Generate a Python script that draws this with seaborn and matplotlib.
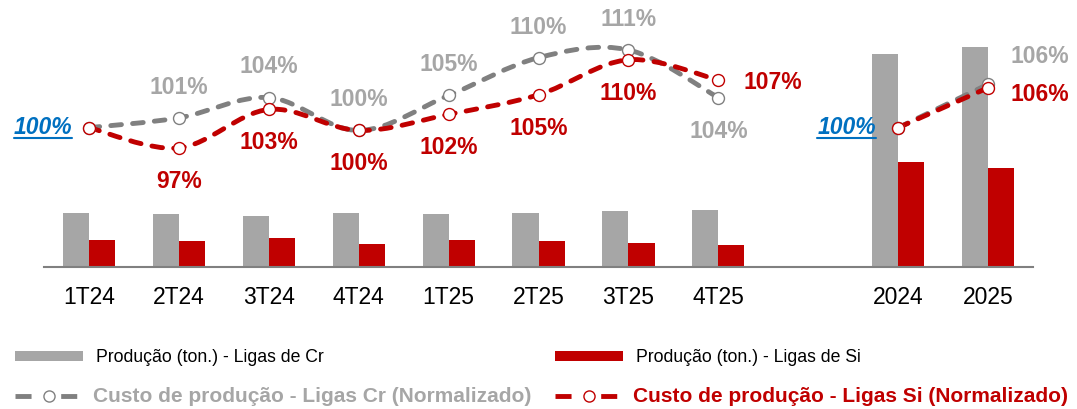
import numpy as np
import pandas as pd
import seaborn as sns
import matplotlib.pyplot as plt
from matplotlib.path import Path
from matplotlib.patches import PathPatch, Patch
from matplotlib.lines import Line2D

# dados
periodos = ["1T24", "2T24", "3T24", "4T24", "1T25", "2T25", "3T25", "4T25", " ", "2024", "2025"]
trimestres = ["1T24", "2T24", "3T24", "4T24", "1T25", "2T25", "3T25", "4T25"]
anos = ["2024", "2025"]

prod_cr = [54, 53, 51, 54, 53, 54, 56, 57, 213, 220]
prod_si = [27, 26, 29, 23, 27, 26, 24, 22, 105, 99]
barras_cat = trimestres + anos

custo_cr_tri = [100, 101.4, 104.3, 99.6, 104.6, 110.0, 111.1, 104.3]
custo_si_tri = [100, 97.1, 102.6, 99.6, 101.9, 104.7, 109.7, 106.8]
custo_cr_ano = [100, 106.2]
custo_si_ano = [100, 105.7]

nome_cr = "Produção (ton.) - Ligas de Cr"
nome_si = "Produção (ton.) - Ligas de Si"
nome_custo_cr = "Custo de produção - Ligas Cr (Normalizado)"
nome_custo_si = "Custo de produção - Ligas Si (Normalizado)"

CINZA_BAR = "#A6A6A6"
CINZA_LIN = "#808080"
VERMELHO = "#C00000"
AZUL = "#0070C0"

sns.set_theme(style="white")
plt.rcParams["font.family"] = ["Liberation Sans", "DejaVu Sans"]

fig = plt.figure(figsize=(10.77, 4.09), dpi=100)
ax = fig.add_axes([0.0409, 0.348, 0.9183, 0.6276])

df = pd.DataFrame({
    "periodo": barras_cat * 2,
    "serie": [nome_cr] * len(barras_cat) + [nome_si] * len(barras_cat),
    "valor": prod_cr + prod_si,
})
sns.barplot(data=df, x="periodo", y="valor", hue="serie", order=periodos,
            palette={nome_cr: CINZA_BAR, nome_si: VERMELHO}, saturation=1,
            width=0.58, gap=0, errorbar=None, linewidth=0, legend=False, ax=ax)

ax.set_xlim(-0.5, 10.5)
ax.set_ylim(0, 256.7)
ax.set_xlabel("")
ax.set_ylabel("")
ax.set_yticks([])
for s in ["top", "left", "right"]:
    ax.spines[s].set_visible(False)
ax.spines["bottom"].set_color(CINZA_LIN)
ax.spines["bottom"].set_linewidth(1.5)
ax.tick_params(axis="x", length=0, pad=14, labelsize=16.5, labelcolor="black")

ax2 = ax.twinx()
ax2.set_ylim(80.14, 116.81)
ax2.set_yticks([])
for s in ax2.spines.values():
    s.set_visible(False)


def curva_suave(xs, ys):
    # curva suavizada tipo Excel (Catmull-Rom em Bezier)
    pts = np.column_stack([xs, ys]).astype(float)
    verts = [pts[0]]
    codes = [Path.MOVETO]
    n = len(pts)
    for i in range(n - 1):
        p0 = pts[i - 1] if i > 0 else pts[i]
        p1 = pts[i]
        p2 = pts[i + 1]
        p3 = pts[i + 2] if i + 2 < n else pts[i + 1]
        c1 = p1 + (p2 - p0) / 6
        c2 = p2 - (p3 - p1) / 6
        verts += [c1, c2, p2]
        codes += [Path.CURVE4] * 3
    return Path(verts, codes)


pos_tri = [periodos.index(p) for p in trimestres]
pos_ano = [periodos.index(p) for p in anos]
traco = (0, (2.2, 2.3))

for xs, ys_cr, ys_si in [(pos_tri, custo_cr_tri, custo_si_tri), (pos_ano, custo_cr_ano, custo_si_ano)]:
    for ys, cor in [(ys_cr, CINZA_LIN), (ys_si, VERMELHO)]:
        patch = PathPatch(curva_suave(xs, ys), facecolor="none", edgecolor=cor, lw=3.5,
                          linestyle=traco, capstyle="round", zorder=3)
        ax2.add_patch(patch)
        ax2.plot(xs, ys, linestyle="none", marker="o", ms=8.6, mfc="white",
                 mec=cor, mew=1.0, zorder=4)

fonte = dict(fontsize=16.5, fontweight="bold", ha="center", va="center")

# rótulos trimestrais
for i, (x, v) in enumerate(zip(pos_tri, custo_cr_tri)):
    if i == 0:
        continue
    dy = -24.5 if i == len(pos_tri) - 1 else 22
    ax2.annotate(f"{v:.0f}%", (x, v), xytext=(0, dy), textcoords="offset points",
                 color=CINZA_BAR, **fonte)
for i, (x, v) in enumerate(zip(pos_tri, custo_si_tri)):
    if i == 0:
        continue
    off = (39, -1.5) if i == len(pos_tri) - 1 else (0, -24)
    ax2.annotate(f"{v:.0f}%", (x, v), xytext=off, textcoords="offset points",
                 color=VERMELHO, **fonte)

# rótulos anuais
ax2.annotate(f"{custo_cr_ano[1]:.0f}%", (pos_ano[1], custo_cr_ano[1]), xytext=(37, 20),
             textcoords="offset points", color=CINZA_BAR, **fonte)
ax2.annotate(f"{custo_si_ano[1]:.0f}%", (pos_ano[1], custo_si_ano[1]), xytext=(37.5, -5),
             textcoords="offset points", color=VERMELHO, **fonte)

# base 100% (azul, sublinhado)
bases = []
for x, v, dx in [(pos_tri[0], custo_si_tri[0], -12), (pos_ano[0], custo_si_ano[0], -16)]:
    t = ax2.annotate(f"{v:.0f}%", (x, v), xytext=(dx, 0), textcoords="offset points",
                     color=AZUL, fontsize=16.5, fontweight="bold", fontstyle="italic",
                     ha="right", va="center")
    bases.append(t)

# legenda: uma entrada por vez, posicionada em pixels
traco_leg = (0, (3.3, 6.1))
entradas = [
    (15, 357.5, Patch(facecolor=CINZA_BAR, edgecolor="none"), nome_cr, "black", "normal", 12.7, 13),
    (15, 396.5, Line2D([0], [0], color=CINZA_LIN, lw=3.5, linestyle=traco_leg, marker="o",
                       ms=8, mfc="white", mec=CINZA_LIN, mew=1.0),
     nome_custo_cr, CINZA_BAR, "bold", 15, 10),
    (555, 357.5, Patch(facecolor=VERMELHO, edgecolor="none"), nome_si, "black", "normal", 12.7, 13),
    (555, 396.5, Line2D([0], [0], color=VERMELHO, lw=3.5, linestyle=traco_leg, marker="o",
                        ms=8, mfc="white", mec=VERMELHO, mew=1.0),
     nome_custo_si, VERMELHO, "bold", 15, 10),
]
for x_px, y_px, h, rot, cor, peso, tam, pad_px in entradas:
    tam_px = tam * 100 / 72
    leg = fig.legend([h], [rot], loc="center left",
                     bbox_to_anchor=(x_px / 1077, 1 - y_px / 409),
                     frameon=False, prop={"size": tam, "weight": peso},
                     handlelength=68 / tam_px, handleheight=9 / tam_px,
                     handletextpad=pad_px / tam_px, borderpad=0, borderaxespad=0)
    leg.get_texts()[0].set_color(cor)

# sublinhado dos 100%
fig.canvas.draw()
r = fig.canvas.get_renderer()
for t in bases:
    bb = t.get_window_extent(r).transformed(fig.transFigure.inverted())
    fig.add_artist(Line2D([bb.x0, bb.x1], [bb.y0 + 0.004, bb.y0 + 0.004],
                          color=AZUL, lw=1.5, transform=fig.transFigure))

fig.savefig("out.png", dpi=100)
